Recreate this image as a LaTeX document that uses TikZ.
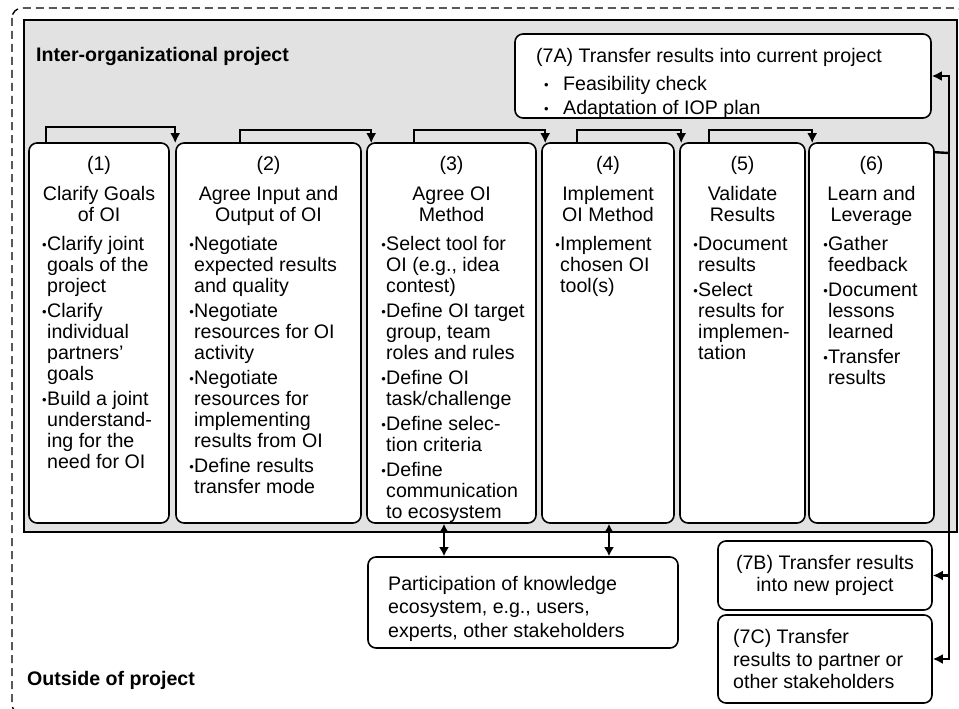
\documentclass[tikz,border=0pt]{standalone}
\usepackage{fontspec}
\setmainfont{Liberation Sans}
\usetikzlibrary{arrows.meta}
\definecolor{iopgray}{RGB}{227,226,227}
\newcommand{\fs}{\fontsize{19.6}{21}\selectfont}
\newcommand{\tstrut}{\rule{0pt}{15pt}}
\newcommand{\bul}{\leavevmode\llap{\raisebox{0.8pt}{\fontsize{13}{13}\selectfont\textbullet}\hspace{0.4pt}}}
\newcommand{\bulb}{\hspace*{8pt}\makebox[19pt][l]{\raisebox{0.8pt}{\fontsize{13}{13}\selectfont\textbullet}}}
\tikzset{
 stage/.style={draw, line width=1.6pt, rounded corners=8pt, fill=white, inner sep=0pt},
 head/.style={anchor=north, align=center, inner sep=0pt, font=\fs},
 items/.style={anchor=north west, align=left, inner sep=0pt, font=\fs},
 wire/.style={line width=2.4pt},
 conn/.style={wire, -{Latex[length=10pt,width=10pt]}},
 dbl/.style={line width=2.8pt, {Latex[length=9pt,width=10pt]}-{Latex[length=9pt,width=10pt]}},
 lbl/.style={anchor=base west, font=\fs\bfseries, inner sep=0pt},
}
\begin{document}
\begin{tikzpicture}[x=1pt,y=-1pt]
\clip (0,0) rectangle (959,709);
\draw[line width=1.4pt, dash pattern=on 8pt off 5pt, rounded corners=10pt] (12,8) rectangle (965,714);
\draw[fill=iopgray, line width=1.6pt] (24,20) rectangle (957,532);
\node[lbl] (lblin) at (36,62) {Inter-organizational project};
\node[lbl] (lblout) at (27,685) {Outside of project};

% stage boxes
\node[stage, minimum width=140pt, minimum height=380pt] (b1) at (99,333) {};
\node[stage, minimum width=185pt, minimum height=380pt] (b2) at (268.5,333) {};
\node[stage, minimum width=169pt, minimum height=380pt] (b3) at (451.5,333) {};
\node[stage, minimum width=132pt, minimum height=380pt] (b4) at (608,333) {};
\node[stage, minimum width=125pt, minimum height=380pt] (b5) at (742.5,333) {};
\node[stage, minimum width=125pt, minimum height=380pt] (b6) at (871.5,333) {};

% headers
\node[head] (h1) at (99,155) {\tstrut(1)\\[9pt]Clarify Goals\\of OI};
\node[head] (h2) at (268.5,155) {\tstrut(2)\\[9pt]Agree Input and\\Output of OI};
\node[head] (h3) at (451.5,155) {\tstrut(3)\\[9pt]Agree OI\\Method};
\node[head] (h4) at (608,155) {\tstrut(4)\\[9pt]Implement\\OI Method};
\node[head] (h5) at (742.5,155) {\tstrut(5)\\[9pt]Validate\\Results};
\node[head] (h6) at (871.5,155) {\tstrut(6)\\[9pt]Learn and\\Leverage};

% bullet lists
\node[items] (l1) at (47,235) {\tstrut\bul Clarify joint\\goals of the\\project\\[4pt]\bul Clarify\\individual\\partners’\\goals\\[4pt]\bul Build a joint\\understand-\\ing for the\\need for OI};
\node[items] (l2) at (194,235) {\tstrut\bul Negotiate\\expected results\\and quality\\[4pt]\bul Negotiate\\resources for OI\\activity\\[4pt]\bul Negotiate\\resources for\\implementing\\results from OI\\[4pt]\bul Define results\\transfer mode};
\node[items] (l3) at (386,235) {\tstrut\bul Select tool for\\OI (e.g., idea\\contest)\\[4pt]\bul Define OI target\\group, team\\roles and rules\\[4pt]\bul Define OI\\task/challenge\\[4pt]\bul Define selec-\\tion criteria\\[4pt]\bul Define\\communication\\to ecosystem};
\node[items] (l4) at (560,235) {\tstrut\bul Implement\\chosen OI\\tool(s)};
\node[items] (l5) at (698,235) {\tstrut\bul Document\\results\\[4pt]\bul Select\\results for\\implemen-\\tation};
\node[items] (l6) at (828,235) {\tstrut\bul Gather\\feedback\\[4pt]\bul Document\\lessons\\learned\\[4pt]\bul Transfer\\results};

% transfer boxes
\node[stage, minimum width=416pt, minimum height=84pt] (t7a) at (723,76) {};
\node[items] (t7atext) at (536,47) {\tstrut(7A) Transfer results into current project\\[7pt]\bulb Feasibility check\\[3pt]\bulb Adaptation of IOP plan};
\node[stage, minimum width=214pt, minimum height=69pt, align=center, font=\fontsize{19.6}{22.5}\selectfont] (t7b) at (825,575.5) {(7B) Transfer results\\into new project};
\node[stage, minimum width=214pt, minimum height=88pt] (t7c) at (825,659) {};
\node[anchor=west, align=left, inner sep=0pt, font=\fontsize{19.6}{22.5}\selectfont] (t7ctext) at (733,659) {(7C) Transfer\\results to partner or\\other stakeholders};

% participation
\node[stage, minimum width=310pt, minimum height=91pt] (part) at (523,602.5) {};
\node[items, font=\fontsize{19.6}{23.5}\selectfont] (parttext) at (388,575) {\tstrut Participation of knowledge\\ecosystem, e.g., users,\\experts, other stakeholders};

% brackets between stages
\draw[conn] ([xshift=18pt]b1.north west) -- ++(0pt,15pt) -| ([yshift=-1pt]b2.north west);
\draw[conn] ([xshift=65pt]b2.north west) -- ++(0pt,12pt) -| ([xshift=5pt,yshift=-1pt]b3.north west);
\draw[conn] ([xshift=48pt]b3.north west) -- ++(0pt,12pt) -| ([xshift=4pt,yshift=-1pt]b4.north west);
\draw[conn] ([xshift=36pt]b4.north west) -- ++(0pt,12pt) -| ([xshift=2pt,yshift=-1pt]b5.north west);
\draw[conn] ([xshift=30pt]b5.north west) -- ++(0pt,12pt) -| ([xshift=4pt,yshift=-1pt]b6.north west);

% rail to transfer boxes
\coordinate (rail) at (949,153);
\draw[wire] ([yshift=-10pt]b6.north east) -- (rail);
\draw[conn] (rail) |- (t7a.east);
\draw[conn] (rail) |- (t7b.east);
\draw[conn] (rail) |- (t7c.east);

% participation arrows
\draw[dbl] ([xshift=-7.5pt]b3.south) -- ([xshift=-7.5pt]b3.south |- part.north);
\draw[dbl] ([xshift=1pt]b4.south) -- ([xshift=1pt]b4.south |- part.north);
\end{tikzpicture}
\end{document}
